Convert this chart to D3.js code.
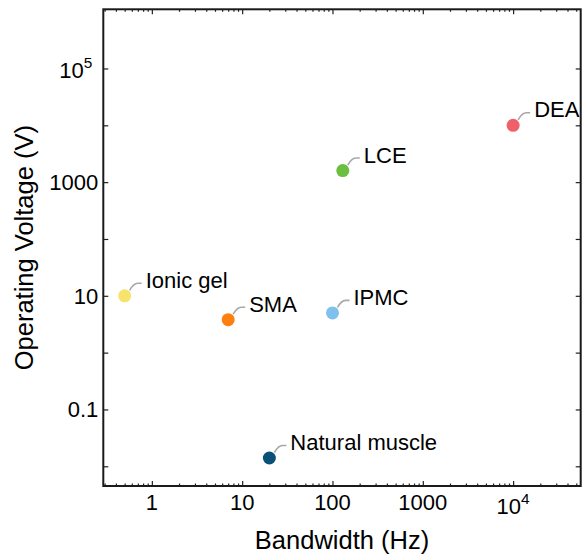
<!DOCTYPE html>
<html>
<head>
<meta charset="utf-8">
<script src="https://cdn.jsdelivr.net/npm/d3@7"></script>
<style>
  body { margin: 0; background: #fff; }
  svg { display: block; font-family: "Liberation Sans", Arial, Helvetica, sans-serif; }
</style>
</head>
<body>
<svg id="chart" width="587" height="557"></svg>
<script>
// ---- data ----
const materials = ["Ionic gel", "SMA", "IPMC", "Natural muscle", "LCE", "DEA"];
const bandwidthHz = [0.5, 7, 100, 20, 130, 10000];
const voltageV = [10, 3.8, 5, 0.014, 1600, 10000];
const colors = ["#f7e26b", "#ff7f0e", "#80c0ec", "#0b5078", "#6abf40", "#f0606a"];

const xTickValues = [1, 10, 100, 1000, 10000];
const xTickLabels = [["1"], ["10"], ["100"], ["1000"], ["10", "4"]];
const yTickValues = [0.01, 0.1, 1, 10, 100, 1000, 1e4, 1e5];
const yLabelValues = [0.1, 10, 1000, 1e5];
const yTickLabels = [["0.1"], ["10"], ["1000"], ["10", "5"]];

// ---- layout ----
const W = 587, H = 557;
const L = 103.3, R = 580.7, T = 9.3, B = 486;

const x = d3.scaleLog().domain([0.29, 5.6e4]).range([L, R]);
const y = d3.scaleLog().domain([0.0045, 1.1e6]).range([B, T]);

const svg = d3.select("#chart");

// minor x ticks
const xMinor = [];
for (let e = -1; e <= 4; e++) {
  for (let m = 2; m <= 9; m++) {
    const v = m * Math.pow(10, e);
    if (v >= x.domain()[0] && v <= x.domain()[1]) xMinor.push(v);
  }
}

const tickColor = "#222";
const g = svg.append("g");

const bottomAxis = d3.axisBottom(x).tickValues(xTickValues).tickSize(-5).tickFormat("");
const bottomMinor = d3.axisBottom(x).tickValues(xMinor).tickSize(-2.5).tickFormat("");
const topAxis = d3.axisTop(x).tickValues(xTickValues).tickSize(-5).tickFormat("");
const topMinor = d3.axisTop(x).tickValues(xMinor).tickSize(-2.5).tickFormat("");
const leftAxis = d3.axisLeft(y).tickValues(yTickValues).tickSize(-5).tickFormat("");
const rightAxis = d3.axisRight(y).tickValues(yTickValues).tickSize(-5).tickFormat("");

function styleAxis(sel) {
  sel.select(".domain").remove();
  sel.selectAll(".tick line").attr("stroke", tickColor).attr("stroke-width", 1.2);
}
g.append("g").attr("transform", `translate(0,${B})`).call(bottomAxis).call(styleAxis);
g.append("g").attr("transform", `translate(0,${B})`).call(bottomMinor).call(styleAxis);
g.append("g").attr("transform", `translate(0,${T})`).call(topAxis).call(styleAxis);
g.append("g").attr("transform", `translate(0,${T})`).call(topMinor).call(styleAxis);
g.append("g").attr("transform", `translate(${L},0)`).call(leftAxis).call(styleAxis);
g.append("g").attr("transform", `translate(${R},0)`).call(rightAxis).call(styleAxis);

// frame
svg.append("rect")
  .attr("x", L).attr("y", T).attr("width", R - L).attr("height", B - T)
  .attr("fill", "none").attr("stroke", "#1a1a1a").attr("stroke-width", 2);

// x tick labels
const fsTick = 22;
xTickValues.forEach((v, i) => {
  const parts = xTickLabels[i];
  const t = svg.append("text")
    .attr("x", x(v)).attr("y", B + (parts[1] ? 28 : 24))
    .attr("text-anchor", "middle")
    .attr("font-size", fsTick).attr("fill", "#000");
  t.append("tspan").text(parts[0]);
  if (parts[1]) t.append("tspan").attr("dy", -10).attr("font-size", fsTick * 0.7).text(parts[1]);
});

// y tick labels
yLabelValues.forEach((v, i) => {
  const parts = yTickLabels[i];
  const t = svg.append("text")
    .attr("x", L - (parts[1] ? 11 : 5)).attr("y", y(v) + (parts[1] ? 10 : 8))
    .attr("text-anchor", "end")
    .attr("font-size", fsTick).attr("fill", "#000");
  t.append("tspan").text(parts[0]);
  if (parts[1]) t.append("tspan").attr("dy", -10).attr("font-size", fsTick * 0.7).text(parts[1]);
});

// axis titles
svg.append("text")
  .attr("x", (L + R) / 2).attr("y", 549)
  .attr("text-anchor", "middle").attr("font-size", 25.5).attr("fill", "#000")
  .text("Bandwidth (Hz)");
svg.append("text")
  .attr("transform", `translate(33,${(T + B) / 2}) rotate(-90)`)
  .attr("text-anchor", "middle").attr("font-size", 25.5).attr("fill", "#000")
  .text("Operating Voltage (V)");

// points
const data = materials.map((m, i) => ({ name: m, bw: bandwidthHz[i], v: voltageV[i], c: colors[i] }));
const pts = svg.append("g");
data.forEach(d => {
  const cx = x(d.bw), cy = y(d.v);
  pts.append("path")
    .attr("d", `M${cx + 5},${cy - 5.5} Q${cx + 9},${cy - 12.5} ${cx + 13},${cy - 12.5} L${cx + 17},${cy - 12.5}`)
    .attr("fill", "none").attr("stroke", "#a8a8a8").attr("stroke-width", 1.6);
  pts.append("circle")
    .attr("cx", cx).attr("cy", cy).attr("r", 6.5)
    .attr("fill", d.c);
  pts.append("text")
    .attr("x", cx + 21).attr("y", cy - 8)
    .attr("font-size", 22).attr("fill", "#000")
    .text(d.name);
});
</script>
</body>
</html>
